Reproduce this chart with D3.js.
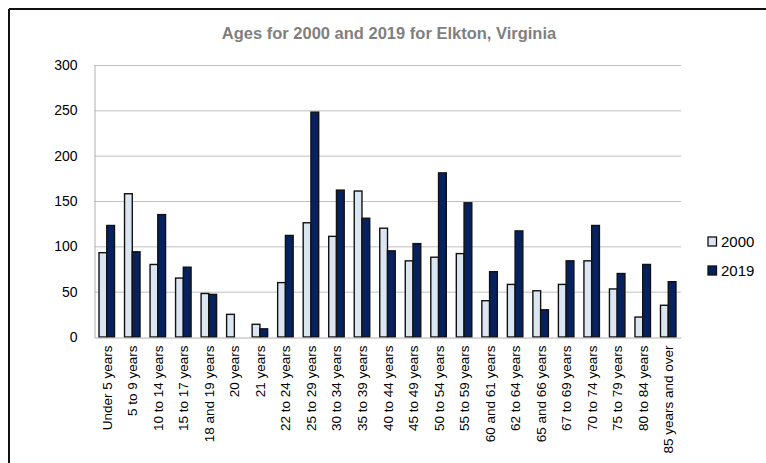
<!DOCTYPE html>
<html>
<head>
<meta charset="utf-8">
<script src="https://cdn.jsdelivr.net/npm/d3@7"></script>
<style>
  html, body { margin: 0; padding: 0; background: #fff; }
  svg { display: block; }
</style>
</head>
<body>
<svg id="chart" width="766" height="463"></svg>
<script>
// Age groups and counts for Elkton, Virginia
const categories = [
  "Under 5 years", "5 to 9 years", "10 to 14 years", "15 to 17 years", "18 and 19 years",
  "20 years", "21 years", "22 to 24 years", "25 to 29 years", "30 to 34 years",
  "35 to 39 years", "40 to 44 years", "45 to 49 years", "50 to 54 years", "55 to 59 years",
  "60 and 61 years", "62 to 64 years", "65 and 66 years", "67 to 69 years", "70 to 74 years",
  "75 to 79 years", "80 to 84 years", "85 years and over"
];
const values2000 = [93, 158, 80, 65, 48, 25, 14, 60, 126, 111, 161, 120, 84, 88, 92, 40, 58, 51, 58, 84, 53, 22, 35];
const values2019 = [123, 94, 135, 77, 47, 0, 9, 112, 248, 162, 131, 95, 103, 181, 148, 72, 117, 30, 84, 123, 70, 80, 61];
const seriesNames = ["2000", "2019"];
const seriesColors = ["#dce6f2", "#06215e"];
const yTicks = [0, 50, 100, 150, 200, 250, 300];

const svg = d3.select("#chart");

// frame lines of the surrounding box
svg.append("line").attr("x1", 9).attr("x2", 766).attr("y1", 9).attr("y2", 9)
  .attr("stroke", "#111").attr("stroke-width", 2);
svg.append("line").attr("x1", 9).attr("x2", 9).attr("y1", 9).attr("y2", 463)
  .attr("stroke", "#111").attr("stroke-width", 2);

const plot = { left: 94, right: 681, top: 65, bottom: 337 };

const x = d3.scaleBand().domain(categories).range([plot.left, plot.right]).paddingInner(0).paddingOuter(0);
const y = d3.scaleLinear().domain([0, 300]).range([plot.bottom, plot.top]);

// title
svg.append("text")
  .attr("x", 389).attr("y", 39)
  .attr("text-anchor", "middle")
  .attr("font-family", "Liberation Sans, Arial, sans-serif")
  .attr("font-weight", "bold")
  .attr("font-size", 16.5)
  .attr("fill", "#7f7f7f")
  .text("Ages for 2000 and 2019 for Elkton, Virginia");

// gridlines
svg.append("g").selectAll("line").data(yTicks.filter(d => d > 0)).join("line")
  .attr("x1", plot.left).attr("x2", plot.right)
  .attr("y1", d => y(d) + 0.5).attr("y2", d => y(d) + 0.5)
  .attr("stroke", "#c0c0c0").attr("stroke-width", 1);

// y axis
const yAxis = svg.append("g")
  .attr("transform", `translate(${plot.left + 0.5},0)`)
  .call(d3.axisLeft(y).tickValues(yTicks).tickSize(0).tickPadding(17));
yAxis.select(".domain").attr("stroke", "#b0b0b0");
yAxis.selectAll("text")
  .attr("font-family", "Liberation Sans, Arial, sans-serif")
  .attr("font-size", 14).attr("fill", "#000");

// bars
const inner = d3.scaleBand().domain(seriesNames).range([0, 15.5]);
const barOffset = (x.bandwidth() - 15.5) / 2;
const groups = svg.append("g").selectAll("g").data(categories).join("g")
  .attr("transform", d => `translate(${x(d) + barOffset},0)`);

groups.selectAll("rect")
  .data((d, i) => [
    { s: "2000", v: values2000[i] },
    { s: "2019", v: values2019[i] }
  ].filter(e => e.v > 0))
  .join("rect")
  .attr("x", e => inner(e.s))
  .attr("y", e => y(e.v))
  .attr("width", inner.bandwidth())
  .attr("height", e => y(0) - y(e.v))
  .attr("fill", e => seriesColors[seriesNames.indexOf(e.s)])
  .attr("stroke", "#111")
  .attr("stroke-width", 1.4);

// x axis
const xAxis = svg.append("g")
  .attr("transform", `translate(0,${plot.bottom + 0.5})`)
  .call(d3.axisBottom(x).tickSize(0).tickSizeOuter(0));
xAxis.select(".domain").attr("stroke", "#b0b0b0");
xAxis.selectAll("text")
  .attr("font-family", "Liberation Sans, Arial, sans-serif")
  .attr("font-size", 13.5)
  .attr("fill", "#000")
  .attr("text-anchor", "end")
  .attr("dy", null)
  .attr("transform", "translate(5,8) rotate(-90)")
  .attr("x", 0).attr("y", 0);

// legend
const legend = svg.append("g").attr("transform", "translate(708,237)");
const items = legend.selectAll("g").data(seriesNames).join("g")
  .attr("transform", (d, i) => `translate(0,${i * 29})`);
items.append("rect")
  .attr("width", 8.5).attr("height", 9)
  .attr("fill", (d, i) => seriesColors[i])
  .attr("stroke", "#111").attr("stroke-width", 1.3);
items.append("text")
  .attr("x", 13).attr("y", 10)
  .attr("font-family", "Liberation Sans, Arial, sans-serif")
  .attr("font-size", 15)
  .attr("fill", "#000")
  .text(d => d);
</script>
</body>
</html>
